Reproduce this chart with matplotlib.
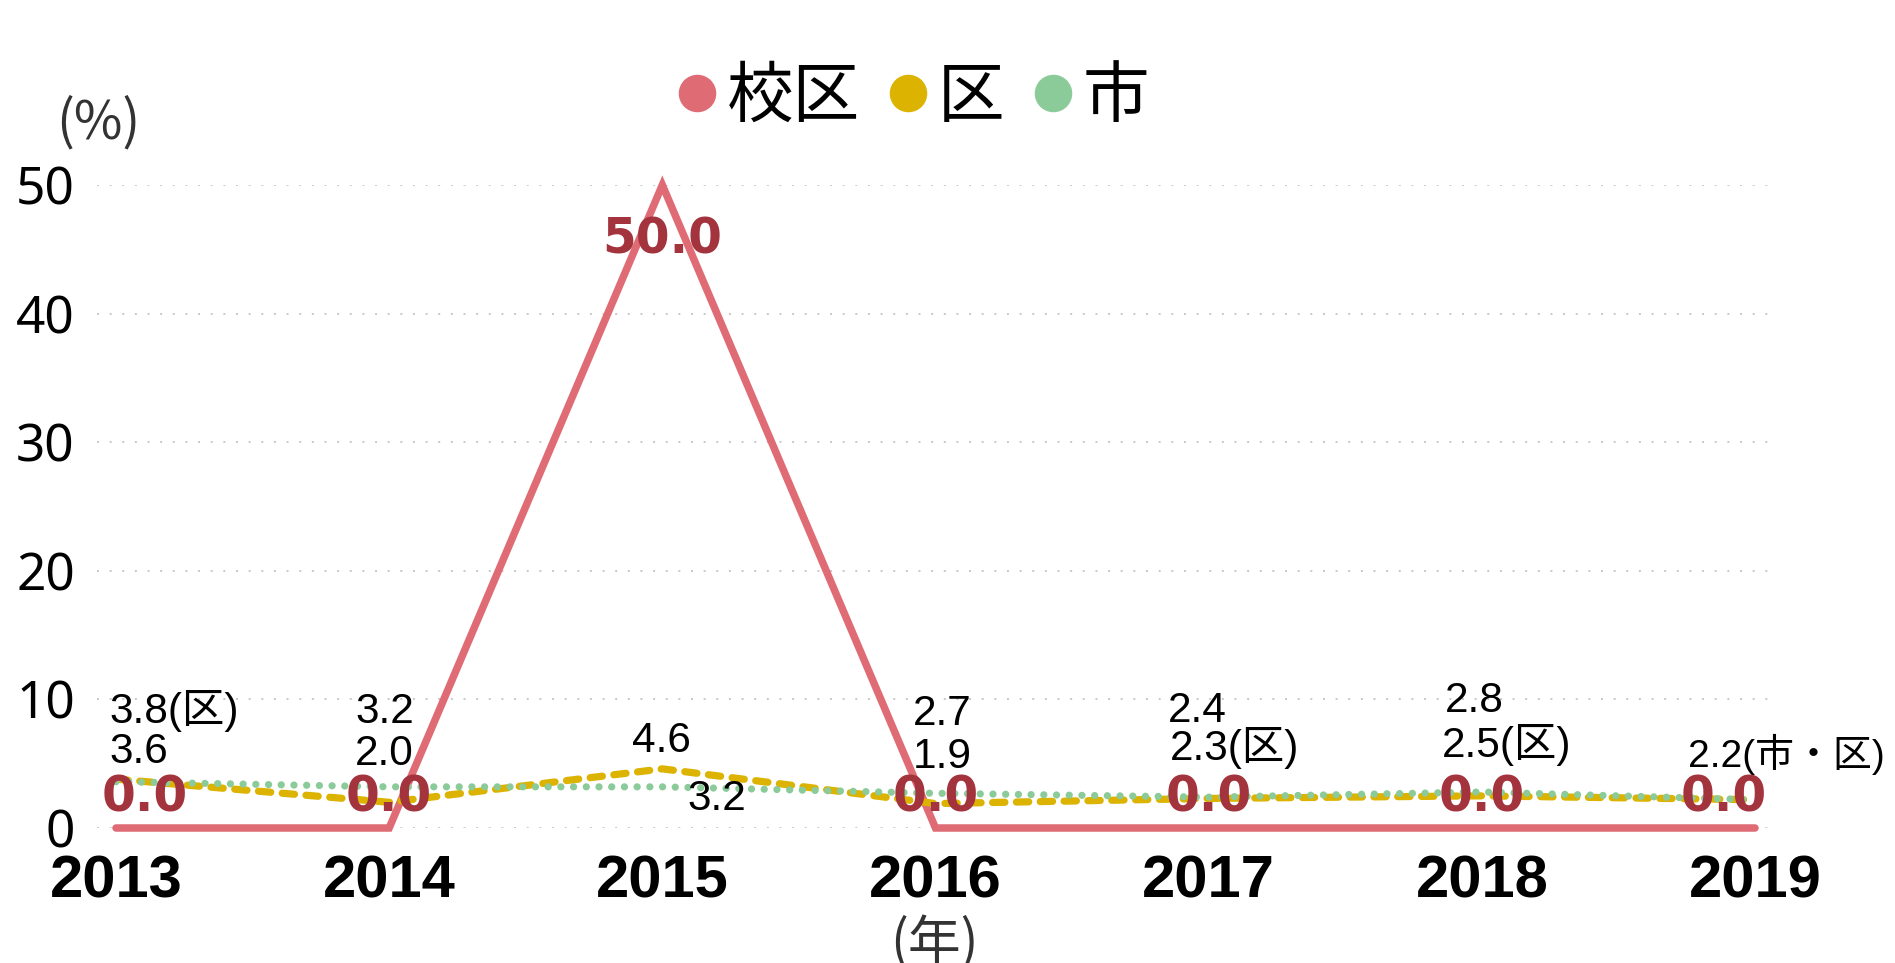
import matplotlib.pyplot as plt
from matplotlib.lines import Line2D

# data
years = ['2013', '2014', '2015', '2016', '2017', '2018', '2019']
school = [0.0, 0.0, 50.0, 0.0, 0.0, 0.0, 0.0]   # 校区
ward = [3.8, 2.0, 4.6, 1.9, 2.3, 2.5, 2.2]      # 区
city = [3.6, 3.2, 3.2, 2.7, 2.4, 2.8, 2.2]      # 市
series_names = ['校区', '区', '市']
ward_suffix = ['(区)', '', '', '', '(区)', '(区)', '(市・区)']
city_shown = [True, True, True, True, True, True, False]
yticks = [0, 10, 20, 30, 40, 50]

# colours / layout
c_school, c_ward, c_city = '#DF6B74', '#DBB300', '#8BCB9A'
c_school_lbl = '#A3333D'
# label offsets in pixels (dx to left edge, dy to baseline)
ward_off = [(-7, 56), (-34, 37), (-30, 17), (-23, 36), (-39, 38), (-40, 39), (-67, 33)]
city_off = [(-7, 19), (-34, 64), (25, -23), (-23, 68), (-41, 75), (-37, 80), (0, 0)]
school_dx = [29, 0, 0, 0, 0, 0, -31]

W, H = 1895, 963
fig = plt.figure(figsize=(W / 100, H / 100), dpi=100)
ax = fig.add_axes([97 / W, 1 - 828 / H, (1773 - 97) / W, (828 - 185) / H])

x = list(range(len(years)))
step = (1755 - 116) / 6
ax.set_xlim(-(116 - 97) / step, 6 + (1773 - 1755) / step)
ax.set_ylim(0, 50)

for y in yticks:
    ax.axhline(y, color='#C8C8C8', lw=1.4, ls=(0, (1, 5.5)), zorder=0)

ax.plot(x, school, color=c_school, lw=5.4, solid_capstyle='round',
        solid_joinstyle='miter', clip_on=False, zorder=2)
ax.plot(x, ward, color=c_ward, lw=5.2, dashes=(1.7, 1.6), dash_capstyle='round',
        clip_on=False, zorder=3)
ax.plot(x, city, color=c_city, lw=5.2, dashes=(0.01, 1.75), dash_capstyle='round',
        clip_on=False, zorder=4)

lbl_font = ['Liberation Sans', 'Noto Sans CJK JP']
for i in x:
    dx, dy = ward_off[i]
    # the long last label is set a little smaller so it stays inside the figure
    fs = 28 if len(ward_suffix[i]) > 3 else 30.5
    ax.annotate(f'{ward[i]:.1f}' + ward_suffix[i], xy=(i, ward[i]), xytext=(dx, dy),
                textcoords='offset pixels', ha='left', va='baseline',
                fontsize=fs, family=lbl_font, color='black', zorder=6,
                annotation_clip=False)
    if city_shown[i]:
        dx, dy = city_off[i]
        ax.annotate(f'{city[i]:.1f}', xy=(i, city[i]), xytext=(dx, dy),
                    textcoords='offset pixels', ha='left', va='baseline',
                    fontsize=30.5, family=lbl_font, color='black', zorder=6,
                    annotation_clip=False)
    dy = -68 if school[i] >= 50 else 17
    ax.annotate(f'{school[i]:.1f}', xy=(i, school[i]), xytext=(school_dx[i], dy),
                textcoords='offset pixels', ha='center', va='baseline',
                fontsize=35, family='DejaVu Sans', fontweight='bold',
                color=c_school_lbl, zorder=7, annotation_clip=False)

ax.set_yticks(yticks)
ax.set_yticklabels([str(v) for v in yticks], fontsize=37, family='Noto Sans')
ax.set_xticks(x)
ax.set_xticklabels(years, fontsize=43, family='Liberation Sans', fontweight='bold')
ax.tick_params(axis='both', length=0)
ax.tick_params(axis='y', pad=16)
ax.tick_params(axis='x', pad=19)
for s in ax.spines.values():
    s.set_visible(False)

fig.text(98 / W, 1 - 123 / H, '(%)', ha='center', va='center', fontsize=38,
         family='Noto Sans CJK JP', color='#333333')
fig.text(934 / W, 1 - 944 / H, '(年)', ha='center', va='center', fontsize=38,
         family='Noto Sans CJK JP', color='#333333')

handles = [Line2D([], [], ls='none', marker='o', markersize=26, color=c)
           for c in (c_school, c_ward, c_city)]
fig.legend(handles, series_names, loc='center', ncol=3,
           bbox_to_anchor=(913 / W, 1 - 98 / H), frameon=False,
           prop={'family': 'Noto Sans CJK JP', 'size': 48},
           handlelength=0.6, handletextpad=0.15, columnspacing=0.42,
           borderpad=0, borderaxespad=0)

fig.savefig('out.png', dpi=100)
